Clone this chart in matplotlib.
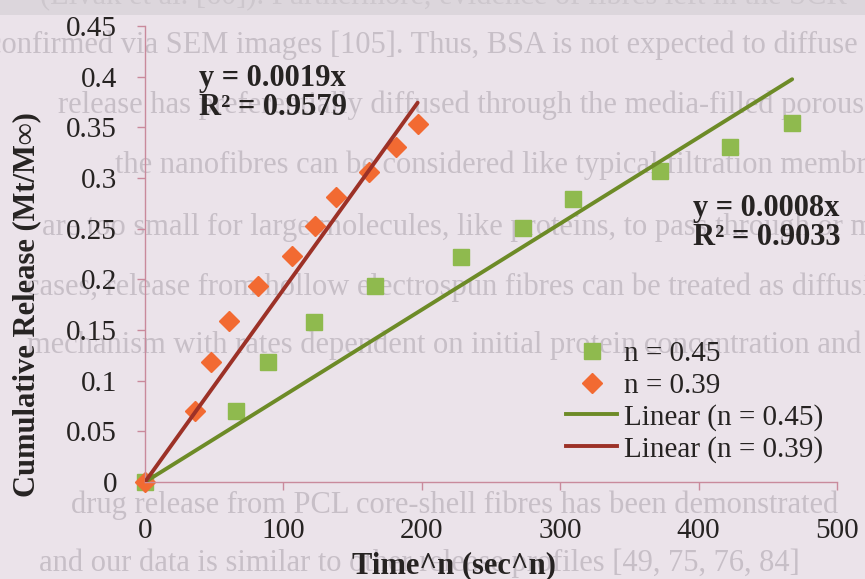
import matplotlib
import matplotlib.pyplot as plt
from matplotlib.lines import Line2D
from matplotlib.patches import Rectangle

matplotlib.rcParams["font.family"] = ["Liberation Serif", "DejaVu Serif"]

# data
x_n045 = [0, 65.6, 89, 122, 166, 228, 273, 309, 372, 423, 467.6]
y_n045 = [0, 0.070, 0.118, 0.158, 0.193, 0.222, 0.251, 0.279, 0.307, 0.331, 0.354]
x_n039 = [0, 36, 47.5, 61, 82, 106, 123, 138, 162, 181.5, 197]
y_n039 = [0, 0.070, 0.118, 0.159, 0.193, 0.223, 0.253, 0.281, 0.306, 0.331, 0.353]
slope_n045 = 0.00085
slope_n039 = 0.0019
x_ticks = [0, 100, 200, 300, 400, 500]
y_ticks = [0, 0.05, 0.1, 0.15, 0.2, 0.25, 0.3, 0.35, 0.4, 0.45]
y_ticklabels = ["0", "0.05", "0.1", "0.15", "0.2", "0.25", "0.3", "0.35", "0.4", "0.45"]

# scanned page text showing behind the chart: (y px, anchor x px, words before anchor, rest)
page_lines = [
    (45, -12, "", "confirmed via SEM images [105]. Thus, BSA is not expected to diffuse"),
    (105, 150, "release ", "has preferentially diffused through the media-filled porous network"),
    (165, 160, "the ", "nanofibres can be considered like typical filtration membranes in"),
    (227, 207, "are too small ", "for large molecules, like proteins, to pass through or may be"),
    (287, 265, "cases, release from ", "hollow electrospun fibres can be treated as diffusion"),
    (345, 550, "mechanism with rates dependent on initial ", "protein concentration and con"),
    (505, 357, "drug release from PCL ", "core-shell fibres has been demonstrated"),
    (563, 318, "and our data is similar ", "to other release profiles [49, 75, 76, 84]"),
]

BG = "#ebe3ea"
PAGE_TEXT = "#c7bfc7"
SPINE = "#c98a9c"
TEXT = "#262322"
GREEN_PT = "#8fba4e"
ORANGE_PT = "#f26a32"
GREEN_LN = "#6d8b27"
RED_LN = "#9c3127"
FS = 21

W, H = 865, 579
fig = plt.figure(figsize=(W / 100, H / 100), dpi=100, facecolor=BG)
renderer = fig.canvas.get_renderer()

# darker strip at the top of the scan
fig.patches.append(Rectangle((0, 1 - 15 / H), 1, 15 / H, transform=fig.transFigure,
                             facecolor="#dcd6dc", edgecolor="none", zorder=-2))
fig.text(40 / W, 1 + 3 / H, "(Livak et al. [60]). Furthermore, evidence of fibres left in the SCR",
         fontsize=22, color="#cdc7cd", va="center", ha="left", zorder=-1)

for py, px, before, rest in page_lines:
    shift = 0
    if before:
        probe = fig.text(0, 0, before.replace(" ", "\u00a0"), fontsize=22)
        shift = probe.get_window_extent(renderer).width
        probe.remove()
    fig.text((px - shift) / W, 1 - py / H, before + rest, fontsize=22, color=PAGE_TEXT,
             va="center", ha="left", zorder=-1)

ax = fig.add_axes([145 / W, 1 - 482 / H, (837 - 145) / W, (482 - 26) / H])
ax.set_facecolor("none")
ax.set_xlim(0, 500)
ax.set_ylim(0, 0.45)

ax.spines[["top", "right"]].set_visible(False)
ax.spines[["left", "bottom"]].set_color(SPINE)
ax.spines[["left", "bottom"]].set_linewidth(1.0)

ax.set_xticks(x_ticks)
ax.set_xticklabels([str(v) for v in x_ticks])
ax.set_yticks(y_ticks)
ax.set_yticklabels(y_ticklabels)
ax.tick_params(axis="both", direction="out", length=6, width=1, color=SPINE,
               labelsize=FS, labelcolor=TEXT)
ax.tick_params(axis="x", pad=20)
ax.tick_params(axis="y", pad=14)

# points
ax.plot(x_n045, y_n045, linestyle="none", marker="s", markersize=12,
        color=GREEN_PT, zorder=2, clip_on=False)
ax.plot(x_n039, y_n039, linestyle="none", marker="D", markersize=10,
        color=ORANGE_PT, zorder=2, clip_on=False)

# linear trendlines through origin
x_end45 = max(x_n045)
x_end39 = max(x_n039)
ax.plot([0, x_end45], [0, slope_n045 * x_end45], color=GREEN_LN, linewidth=2.8,
        solid_capstyle="round", zorder=3)
ax.plot([0, x_end39], [0, slope_n039 * x_end39], color=RED_LN, linewidth=2.8,
        solid_capstyle="round", zorder=3)

# equations
ax.text(39, 0.3835, "y = 0.0019x\nR\u00b2 = 0.9579", fontsize=FS + 1, fontweight="bold",
        color=TEXT, va="center", ha="left", linespacing=1.0)
ax.text(396, 0.2555, "y = 0.0008x\nR\u00b2 = 0.9033", fontsize=FS + 1, fontweight="bold",
        color=TEXT, va="center", ha="left", linespacing=1.0)

# legend
handles = [
    Line2D([], [], linestyle="none", marker="s", markersize=12, color=GREEN_PT),
    Line2D([], [], linestyle="none", marker="D", markersize=10, color=ORANGE_PT),
    Line2D([], [], color=GREEN_LN, linewidth=2.8),
    Line2D([], [], color=RED_LN, linewidth=2.8),
]
labels = ["n = 0.45", "n = 0.39", "Linear (n = 0.45)", "Linear (n = 0.39)"]
fig.legend(handles, labels, loc="upper left", bbox_to_anchor=(566 / W, 1 - 341 / H),
           frameon=False, fontsize=FS, handlelength=1.75, handletextpad=0.25,
           labelspacing=0.17, borderpad=0, borderaxespad=0, labelcolor=TEXT)

# axis titles
fig.text(27 / W, 1 - 305 / H, "Cumulative Release (Mt/M\u221e)", rotation=90,
         fontsize=FS + 1, fontweight="bold", color=TEXT, ha="center", va="center")
fig.text(454 / W, 1 - 566 / H, "Time^n (sec^n)", fontsize=FS + 1, fontweight="bold",
         color=TEXT, ha="center", va="center")

fig.savefig("out.png", dpi=100, facecolor=BG)
plt.close(fig)
